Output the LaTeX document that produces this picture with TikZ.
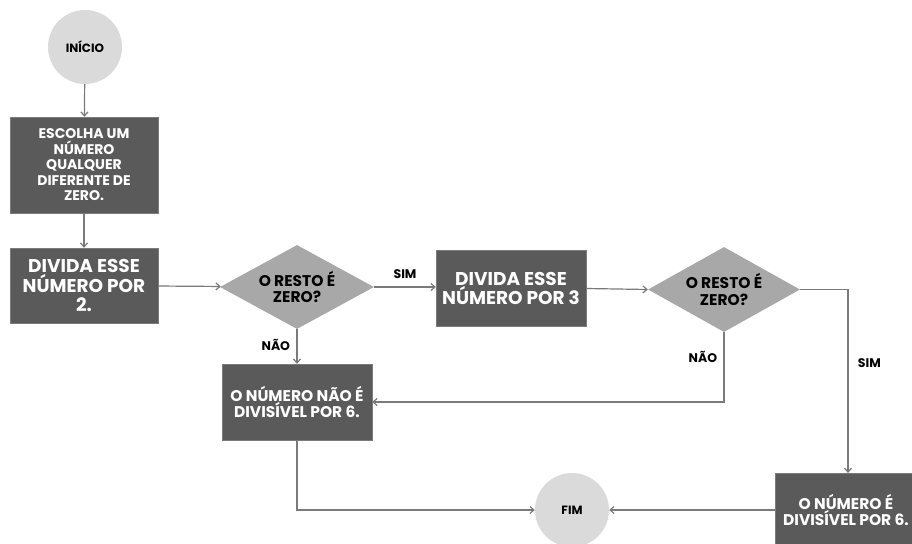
\documentclass[tikz,border=0pt]{standalone}
\usepackage{fontspec}
\setmainfont{Poppins}
\usetikzlibrary{arrows.meta,shapes.geometric}
\definecolor{boxgray}{HTML}{5A5A5A}
\definecolor{diagray}{HTML}{A8A8A8}
\definecolor{circgray}{HTML}{DADADA}
\definecolor{linegray}{HTML}{7A7A7A}
\tikzset{
  procbox/.style={rectangle, fill=boxgray, draw=boxgray!80, text=white, font=\bfseries, align=center, inner sep=0pt},
  decis/.style={diamond, fill=diagray, text=black, font=\bfseries\fontsize{15.5}{16.5}\selectfont, align=center, inner sep=0pt, minimum width=154pt, minimum height=84pt, aspect=1.8},
  term/.style={circle, fill=circgray, text=black, font=\bfseries\fontsize{12}{13}\selectfont, minimum size=74pt, inner sep=0pt},
  conn/.style={draw=linegray, line width=1.2pt, -{Straight Barb[length=4pt,width=7pt]}},
  lbl/.style={font=\bfseries\fontsize{12.5}{13}\selectfont, text=black}
}
\begin{document}
\begin{tikzpicture}[x=1pt,y=-1pt]
\useasboundingbox (0,0) rectangle (912,543);
\node[term] (ini) at (85,47) {INÍCIO};
\node[procbox, minimum width=148pt, minimum height=96pt, font=\bfseries\fontsize{14}{15.5}\selectfont] (esc) at (84,165) {ESCOLHA UM\\NÚMERO\\QUALQUER\\DIFERENTE DE\\ZERO.};
\node[procbox, minimum width=148pt, minimum height=75pt, font=\bfseries\fontsize{18.5}{19.5}\selectfont] (div2) at (84,285.5) {DIVIDA ESSE\\NÚMERO POR\\2.};
\node[decis, minimum width=154pt, minimum height=84pt] (d1) at (297,287) {O RESTO É\\ZERO?};
\node[procbox, minimum width=150pt, minimum height=76pt, font=\bfseries\fontsize{18.5}{19.5}\selectfont] (div3) at (511,288.5) {DIVIDA ESSE\\NÚMERO POR 3};
\node[decis, minimum width=152pt, minimum height=85pt] (d2) at (724,289.5) {O RESTO É\\ZERO?};
\node[procbox, minimum width=150pt, minimum height=76pt, font=\bfseries\fontsize{15.5}{16.5}\selectfont] (nao6) at (297,402) {O NÚMERO NÃO É\\DIVISÍVEL POR 6.};
\node[procbox, minimum width=142pt, minimum height=76pt, anchor=north west] (sim6) at (775,473) {};
\node[font=\bfseries\fontsize{15.5}{16.5}\selectfont, text=white, align=center] (sim6t) at (846,510) {O NÚMERO É\\DIVISÍVEL POR 6.};
\node[term] (fim) at (572,510) {FIM};

\draw[conn] (ini) -- (esc);
\draw[conn] (esc) -- (div2);
\draw[conn] (div2) -- (d1);
\draw[conn] (d1) -- node[lbl, above=4pt] {SIM} (d1 -| div3.west);
\draw[conn] (div3.east) -- (d2.west);
\draw[conn] (d1) -- node[lbl, left=3pt, pos=0.45] {NÃO} (nao6);
\draw[conn] (d2.south) |- node[lbl, left=3pt, pos=0.18] {NÃO} (nao6.east);
\draw[conn] (d2.east) -| node[lbl, right=6pt, pos=0.7] {SIM} ([xshift=73pt]sim6.north west);
\draw[conn] (nao6.south) |- (fim.west);
\draw[conn] (sim6.west |- fim) -- (fim.east);
\end{tikzpicture}
\end{document}
